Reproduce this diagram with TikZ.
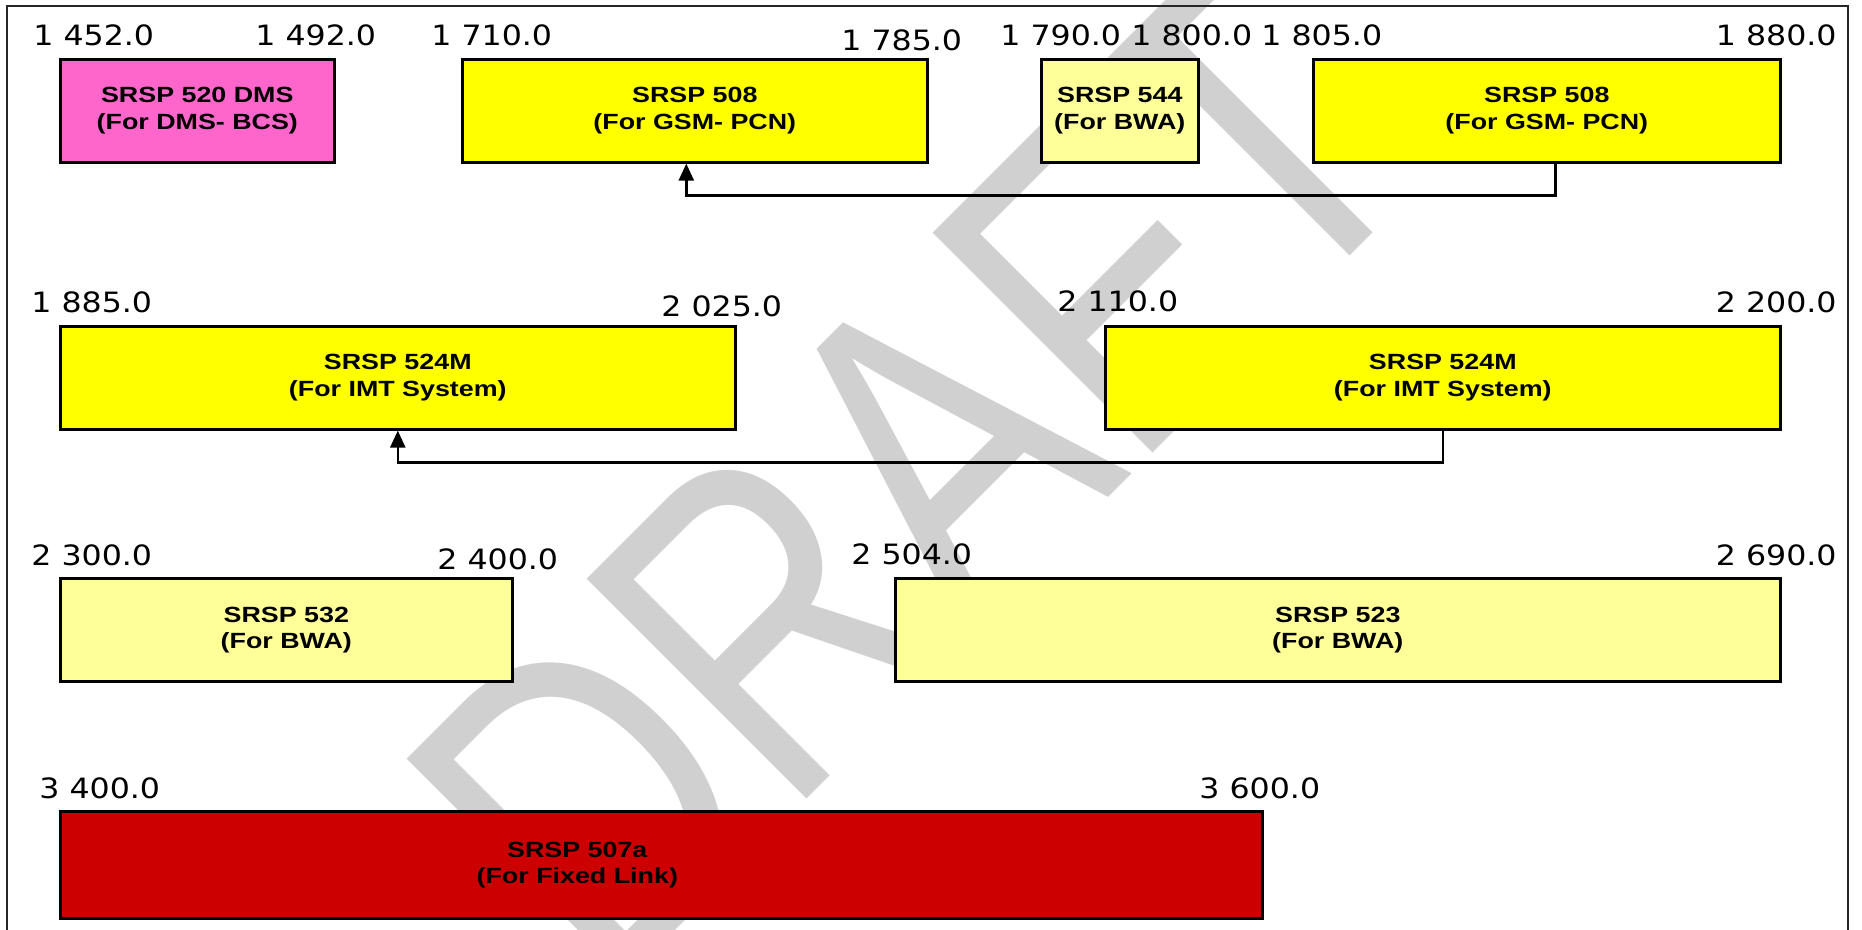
\documentclass[tikz,border=0pt]{standalone}
\usepackage{fontspec}
\usepackage{xcolor}
\definecolor{Pink}{HTML}{FF66CC}
\definecolor{Lemon}{HTML}{FFFF00}
\definecolor{Cream}{HTML}{FFFF99}
\definecolor{Crimson}{HTML}{CC0000}
\definecolor{Wmark}{HTML}{D0D0D0}
\newfontface\boxfont{Liberation Sans Bold}[FakeStretch=1.22]
\newfontface\tickfont{DejaVu Sans}[FakeStretch=1.13]
\newfontface\wmfont{Liberation Sans}[FakeStretch=0.78]
\usepackage{tikz}
\usetikzlibrary{arrows.meta,positioning}

\begin{document}
\begin{tikzpicture}[x=0.5pt,y=-0.5pt,
  band/.style={draw=black,line width=1.3pt,anchor=north west,minimum height=51.5pt,inner sep=0pt},
  boxtext/.style={font=\boxfont\fontsize{11}{13.2}\selectfont,align=center},
  tick/.style={font=\tickfont\fontsize{14}{14}\selectfont,inner sep=0pt},
  link/.style={line width=1.2pt,-{Triangle[width=7.5pt,length=8.5pt]}}]
\useasboundingbox (0,0) rectangle (1862,930);
% watermark
\node[rotate=45,text=Wmark,inner sep=0pt,font=\wmfont\fontsize{226}{226}\selectfont] (wm) at (912,474) {DRAFT};
% frame
\draw[line width=0.8pt,black!85] (7,935) -- (7,6) -- (1848,6) -- (1848,935);
% row 1
\node[band,fill=Pink,minimum width=137pt] (b520) at (59,58) {};
\node[boxtext] at (b520) {SRSP 520 DMS\\(For DMS- BCS)};
\node[band,fill=Lemon,minimum width=232.5pt] (b508a) at (461,58) {};
\node[boxtext] at (b508a) {SRSP 508\\(For GSM- PCN)};
\node[band,fill=Cream,minimum width=78.5pt] (b544) at (1040,58) {};
\node[boxtext] at (b544) {SRSP 544\\(For BWA)};
\node[band,fill=Lemon,minimum width=233.5pt] (b508b) at (1312,58) {};
\node[boxtext] at (b508b) {SRSP 508\\(For GSM- PCN)};
\node[tick,anchor=base west] (t1452) at (33,46) {1 452.0};
\node[tick,anchor=base west] (t1492) at (255,46) {1 492.0};
\node[tick,anchor=base west] (t1710) at (431,46) {1 710.0};
\node[tick,anchor=base west] (t1785) at (841,51) {1 785.0};
\node[tick,anchor=base west] (t1790) at (1000,46) {1 790.0};
\node[tick,anchor=base west] (t1800) at (1131,46) {1 800.0};
\node[tick,anchor=base west] (t1805) at (1261,46) {1 805.0};
\node[tick,anchor=base east] (t1880) at (1837,46) {1 880.0};
\draw[link] ([xshift=4.25pt]b508b.south) -- ++(0,-16pt) -| ([xshift=-4.25pt]b508a.south);
% row 2
\node[band,fill=Lemon,minimum width=337.5pt] (b524a) at (59,325) {};
\node[boxtext] at (b524a) {SRSP 524M\\(For IMT System)};
\node[band,fill=Lemon,minimum width=337.5pt] (b524b) at (1104,325) {};
\node[boxtext] at (b524b) {SRSP 524M\\(For IMT System)};
\node[tick,anchor=base west] (t1885) at (31,313) {1 885.0};
\node[tick,anchor=base west] (t2025) at (661,317) {2 025.0};
\node[tick,anchor=base west] (t2110) at (1057,312) {2 110.0};
\node[tick,anchor=base east] (t2200) at (1837,313) {2 200.0};
\draw[link] (b524b.south) -- ++(0,-16pt) -| (b524a.south);
% row 3
\node[band,fill=Cream,minimum width=226pt] (b532) at (59,577) {};
\node[boxtext] at (b532) {SRSP 532\\(For BWA)};
\node[band,fill=Cream,minimum width=442.5pt] (b523) at (894,577) {};
\node[boxtext] at (b523) {SRSP 523\\(For BWA)};
\node[tick,anchor=base west] (t2300) at (31,565) {2 300.0};
\node[tick,anchor=base west] (t2400) at (437,569) {2 400.0};
\node[tick,anchor=base west] (t2504) at (851,564) {2 504.0};
\node[tick,anchor=base east] (t2690) at (1837,565) {2 690.0};
% row 4
\node[band,fill=Crimson,minimum width=601pt,minimum height=53.5pt] (b507) at (59,810) {};
\node[boxtext] at ([xshift=-42pt]b507.center) {SRSP 507a\\(For Fixed Link)};
\node[tick,anchor=base west] (t3400) at (39,798) {3 400.0};
\node[tick,anchor=base west] (t3600) at (1199,798) {3 600.0};
\end{tikzpicture}
\end{document}
